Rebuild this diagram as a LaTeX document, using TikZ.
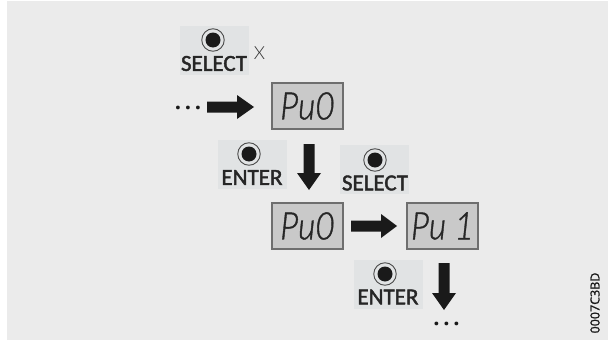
\documentclass[tikz,border=0pt]{standalone}
\usepackage{fontspec}
\setmainfont{Carlito}
\newfontfamily\keyfont[FakeBold=1.8]{Carlito}
\newfontfamily\lcdfont[FakeStretch=0.88,FakeBold=1]{Lato Light}
\newfontfamily\thinfont{Lato Light}
\newfontfamily\codefont[FakeBold=1.2]{Open Sans}
\newfontfamily\dotfont{Open Sans}
\usetikzlibrary{arrows}
\definecolor{panelgray}{HTML}{EBEBEB}
\definecolor{keygray}{HTML}{E1E3E4}
\definecolor{lcdgray}{HTML}{C9C9C9}
\definecolor{lcdedge}{HTML}{6E6E6E}
\definecolor{inkblack}{HTML}{1A1A1A}
\tikzset{
keybox/.style={fill=keygray,minimum width=69pt,minimum height=49pt,inner sep=0pt},
lcdbox/.style={draw=lcdedge,line width=1.2pt,fill=lcdgray,minimum width=71pt,minimum height=46pt,inner sep=0pt,text=black!85,font=\lcdfont\itshape\fontsize{38}{38}\selectfont},
keyname/.style={inner sep=0pt,text=black!85,font=\keyfont\fontsize{23}{23}\selectfont},
keyhole/.style={circle,fill=inkblack,minimum size=15pt,inner sep=0pt},
keyring/.style={circle,draw=black!70,line width=0.9pt,minimum size=22.5pt,inner sep=0pt},
dotrow/.style={inner sep=0pt,anchor=base,text=inkblack,font=\dotfont\fontsize{22}{22}\selectfont\bfseries},
fatarrow/.style={fill=inkblack}
}
\newcommand{\spreaddots}{.\hspace{3.8pt}.\hspace{3.8pt}.}
\begin{document}
\begin{tikzpicture}[x=1pt,y=-1pt]
\useasboundingbox (0,0) rectangle (608,340);
\fill[white] (0,0) rectangle (608,340);
\fill[panelgray] (7,1) rectangle (608,340);
% keys
\node[keybox] (selectA) at (214,50.5) {};
\node[keyring] (ringA) at (213,40) {};
\node[keyhole] (holeA) at (213,40) {};
\node[keyname] (nameA) at (214,63.5) {SELECT};
\node[inner sep=0pt,font=\thinfont\fontsize{18}{18}\selectfont,text=black!80] (times) at (259.5,53) {X};
\node[keybox] (enterA) at (252.5,164.5) {};
\node[keyring] (ringB) at (249,154) {};
\node[keyhole] (holeB) at (249,154) {};
\node[keyname] (nameB) at (252,177.5) {ENTER};
\node[keybox] (selectB) at (374.5,169.5) {};
\node[keyring] (ringC) at (375,160) {};
\node[keyhole] (holeC) at (375,160) {};
\node[keyname] (nameC) at (375,183) {SELECT};
\node[keybox] (enterB) at (388.5,284) {};
\node[keyring] (ringD) at (385,274) {};
\node[keyhole] (holeD) at (385,274) {};
\node[keyname] (nameD) at (388,297) {ENTER};
% displays
\node[lcdbox] (lcdA) at (307.5,106) {Pu0};
\node[lcdbox] (lcdB) at (307.5,226) {Pu0};
\node[lcdbox] (lcdC) at (442.5,226) {Pu 1};
% arrows
\coordinate (startA) at (207,107);
\coordinate (startB) at (309,144);
\coordinate (startC) at (351,226);
\coordinate (startD) at (444,263);
\fill[fatarrow] (startA) ++(0,-5.5) -- ++(30,0) -- ++(0,-6.5) -- ++(17,12) -- ++(-17,12) -- ++(0,-6.5) -- ++(-30,0) -- cycle;
\fill[fatarrow] (startB) ++(-5.5,0) -- ++(0,29) -- ++(-6.5,0) -- ++(12,17) -- ++(12,-17) -- ++(-6.5,0) -- ++(0,-29) -- cycle;
\fill[fatarrow] (startC) ++(0,-5.5) -- ++(30,0) -- ++(0,-6.5) -- ++(16,12) -- ++(-16,12) -- ++(0,-6.5) -- ++(-30,0) -- cycle;
\fill[fatarrow] (startD) ++(-5.5,0) -- ++(0,30) -- ++(-6.5,0) -- ++(12,17) -- ++(12,-17) -- ++(-6.5,0) -- ++(0,-30) -- cycle;
\node[dotrow] (dotsA) at (188,109) {\spreaddots};
\node[dotrow] (dotsB) at (446.5,325) {\spreaddots};
% code
\node[rotate=90,inner sep=0pt,font=\codefont\fontsize{12.5}{13}\selectfont,text=black!90] (code) at (595,303) {0007C3BD};
\end{tikzpicture}
\end{document}
